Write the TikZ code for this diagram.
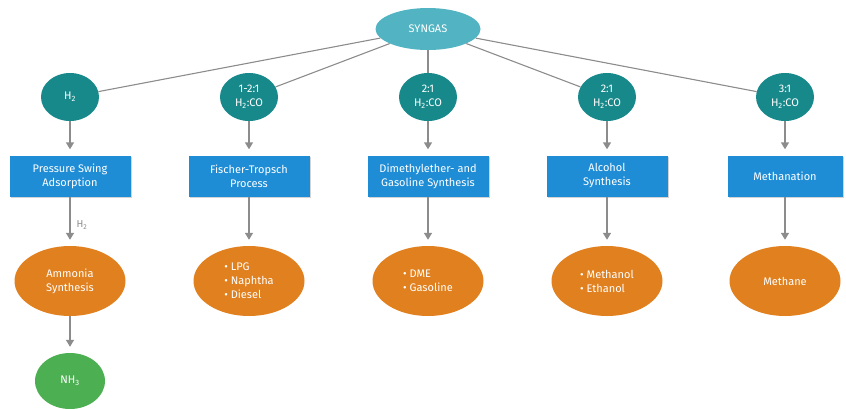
\documentclass[tikz,border=0pt]{standalone}
\usepackage{fontspec}
\setmainfont{Fira Sans}
\usepackage{tikz}
\usetikzlibrary{positioning}
\usetikzlibrary{shapes.geometric}
\usetikzlibrary{arrows.meta}
\usetikzlibrary{shadows}
\usepackage{xcolor}

\definecolor{gasteal}{HTML}{52B4C2}
\definecolor{ratioteal}{HTML}{17898B}
\definecolor{procblue}{HTML}{1F8DD6}
\definecolor{prodorange}{HTML}{E0801F}
\definecolor{nhgreen}{HTML}{4CAF52}
\definecolor{linkgray}{HTML}{8C8C8C}

\tikzset{
    txt/.style={text=white, font=\fontsize{11}{14}\selectfont, align=center, inner sep=0pt},
    gas/.style={txt, ellipse, fill=gasteal, minimum width=105pt, minimum height=42pt},
    ratio/.style={txt, ellipse, fill=ratioteal, minimum width=58pt, minimum height=48pt},
    procbox/.style={txt, rectangle, fill=procblue, minimum width=121pt, minimum height=41pt,
        drop shadow={shadow xshift=1.5pt, shadow yshift=-1.5pt, opacity=.35}},
    prod/.style={txt, ellipse, fill=prodorange, minimum width=111pt, minimum height=70pt},
    final/.style={txt, ellipse, fill=nhgreen, minimum width=70pt, minimum height=56pt},
    link/.style={draw=linkgray, line width=1.1pt},
    flow/.style={link, line width=1.4pt, shorten >=6pt, -{Triangle[width=8pt,length=7pt]}}
}

\begin{document}
\begin{tikzpicture}[x=1pt, y=-1pt]
        \useasboundingbox (0,0) rectangle (846,408);
        % top node
        \node[gas] (syngas) at (428,29) {SYNGAS};
        % ratios
        \node[ratio] (r1) at (70,97) {H\textsubscript{2}};
        \node[ratio] (r2) at (249,97) {1-2:1\\H\textsubscript{2}:CO};
        \node[ratio] (r3) at (428,97) {2:1\\H\textsubscript{2}:CO};
        \node[ratio] (r4) at (607,97) {2:1\\H\textsubscript{2}:CO};
        \node[ratio] (r5) at (785,97) {3:1\\H\textsubscript{2}:CO};
        % processes
        \node[procbox] (p1) at (70,176) {Pressure Swing\\Adsorption};
        \node[procbox] (p2) at (249,176) {Fischer-Tropsch\\Process};
        \node[procbox] (p3) at (428,176) {Dimethylether- and\\Gasoline Synthesis};
        \node[procbox] (p4) at (607,176) {Alcohol\\Synthesis};
        \node[procbox, minimum width=115pt] (p5) at (785,176) {Methanation};
        % products
        \node[prod] (d1) at (70,281) {Ammonia\\Synthesis};
        \node[prod, align=left] (d2) at (249,281) {\textbullet\ LPG\\\textbullet\ Naphtha\\\textbullet\ Diesel};
        \node[prod, align=left] (d3) at (428,281) {\textbullet\ DME\\\textbullet\ Gasoline};
        \node[prod, align=left] (d4) at (607,281) {\textbullet\ Methanol\\\textbullet\ Ethanol};
        \node[prod] (d5) at (785,281) {Methane};
        \node[final] (nh3) at (70,381) {NH\textsubscript{3}};
        \foreach \i in {1,...,5}
        {
            \draw[link] (syngas) -- (r\i);
            \draw[flow] (r\i) -- (p\i);
            \draw[flow] (p\i) -- (d\i);
        }
        \node[font=\fontsize{10}{11}\selectfont, text=linkgray, anchor=west] (h2lbl) at (73,225) {H\textsubscript{2}};
        \draw[flow] (d1) -- (nh3);
    \end{tikzpicture}
\end{document}
